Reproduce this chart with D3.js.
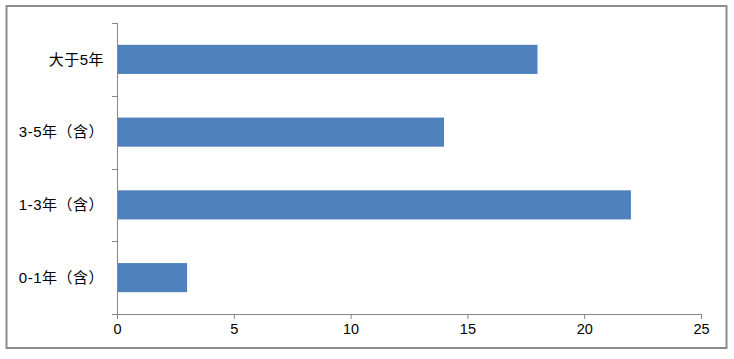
<!DOCTYPE html>
<html>
<head>
  <meta charset="utf-8">
  <title>Bar chart</title>
<script src="https://d3js.org/d3.v7.min.js"></script>
  <style>
    body { margin: 0; background: #fff; }
    .axis text {
      font: 14.5px "Liberation Sans", "Noto Sans CJK SC", sans-serif;
      fill: #000;
    }
    .axis .ylabel {
      font-size: 15px;
      letter-spacing: 0.5px;
    }
    .axis path, .axis line {
      stroke: #868686;
    }
  </style>
</head>
<body>
  <script>
    // categories from top to bottom
    const categories = ["大于5年", "3-5年（含）", "1-3年（含）", "0-1年（含）"];
    const values = [18, 14, 22, 3];
    const xTicks = [0, 5, 10, 15, 20, 25];

    const W = 734, H = 359;
    const margin = { top: 23, right: 33, bottom: 45, left: 117 };
    const width = W - margin.left - margin.right;
    const height = H - margin.top - margin.bottom;

    const svg = d3.select("body").append("svg")
        .attr("width", W)
        .attr("height", H);

    // outer frame
    svg.append("rect")
        .attr("x", 6.5).attr("y", 6)
        .attr("width", 720).attr("height", 342)
        .attr("fill", "#fff")
        .attr("stroke", "#8c8c8c")
        .attr("stroke-width", 2);

    const g = svg.append("g")
        .attr("transform", "translate(" + margin.left + "," + margin.top + ")");

    const x = d3.scaleLinear().domain([0, 25]).range([0, width]);
    const y = d3.scaleBand().domain(categories).range([0, height]).paddingInner(0.6).paddingOuter(0.3);
    const yEdges = d3.scaleLinear().domain([0, categories.length]).range([0, height]);

    // bars
    g.selectAll(".bar")
        .data(values)
        .enter().append("rect")
        .attr("class", "bar")
        .attr("x", x(0))
        .attr("y", (d, i) => y(categories[i]))
        .attr("width", d => x(d) - x(0))
        .attr("height", y.bandwidth())
        .attr("fill", "#4f81bd");

    // x axis
    const xAxis = g.append("g")
        .attr("class", "axis")
        .attr("transform", "translate(0," + height + ")")
        .call(d3.axisBottom(x).tickValues(xTicks).tickSize(5).tickSizeOuter(5).tickPadding(5));
    xAxis.select(".domain").attr("d", "M0.5,5V0.5H" + (width + 0.5) + "V5");

    // y axis: line with ticks between categories
    const yAxis = g.append("g").attr("class", "axis");
    yAxis.append("line")
        .attr("x1", 0.5).attr("x2", 0.5)
        .attr("y1", 0).attr("y2", height)
        .attr("stroke", "#868686");
    yAxis.selectAll(".ytick")
        .data(d3.range(categories.length + 1))
        .enter().append("line")
        .attr("x1", -5).attr("x2", 0.5)
        .attr("y1", d => Math.round(yEdges(d)) + 0.5)
        .attr("y2", d => Math.round(yEdges(d)) + 0.5)
        .attr("stroke", "#868686");
    yAxis.selectAll(".ylabel")
        .data(categories)
        .enter().append("text")
        .attr("class", "ylabel")
        .attr("x", -13)
        .attr("y", d => y(d) + y.bandwidth() / 2)
        .attr("dy", ".35em")
        .attr("text-anchor", "end")
        .text(d => d);
  </script>
</body>
</html>
